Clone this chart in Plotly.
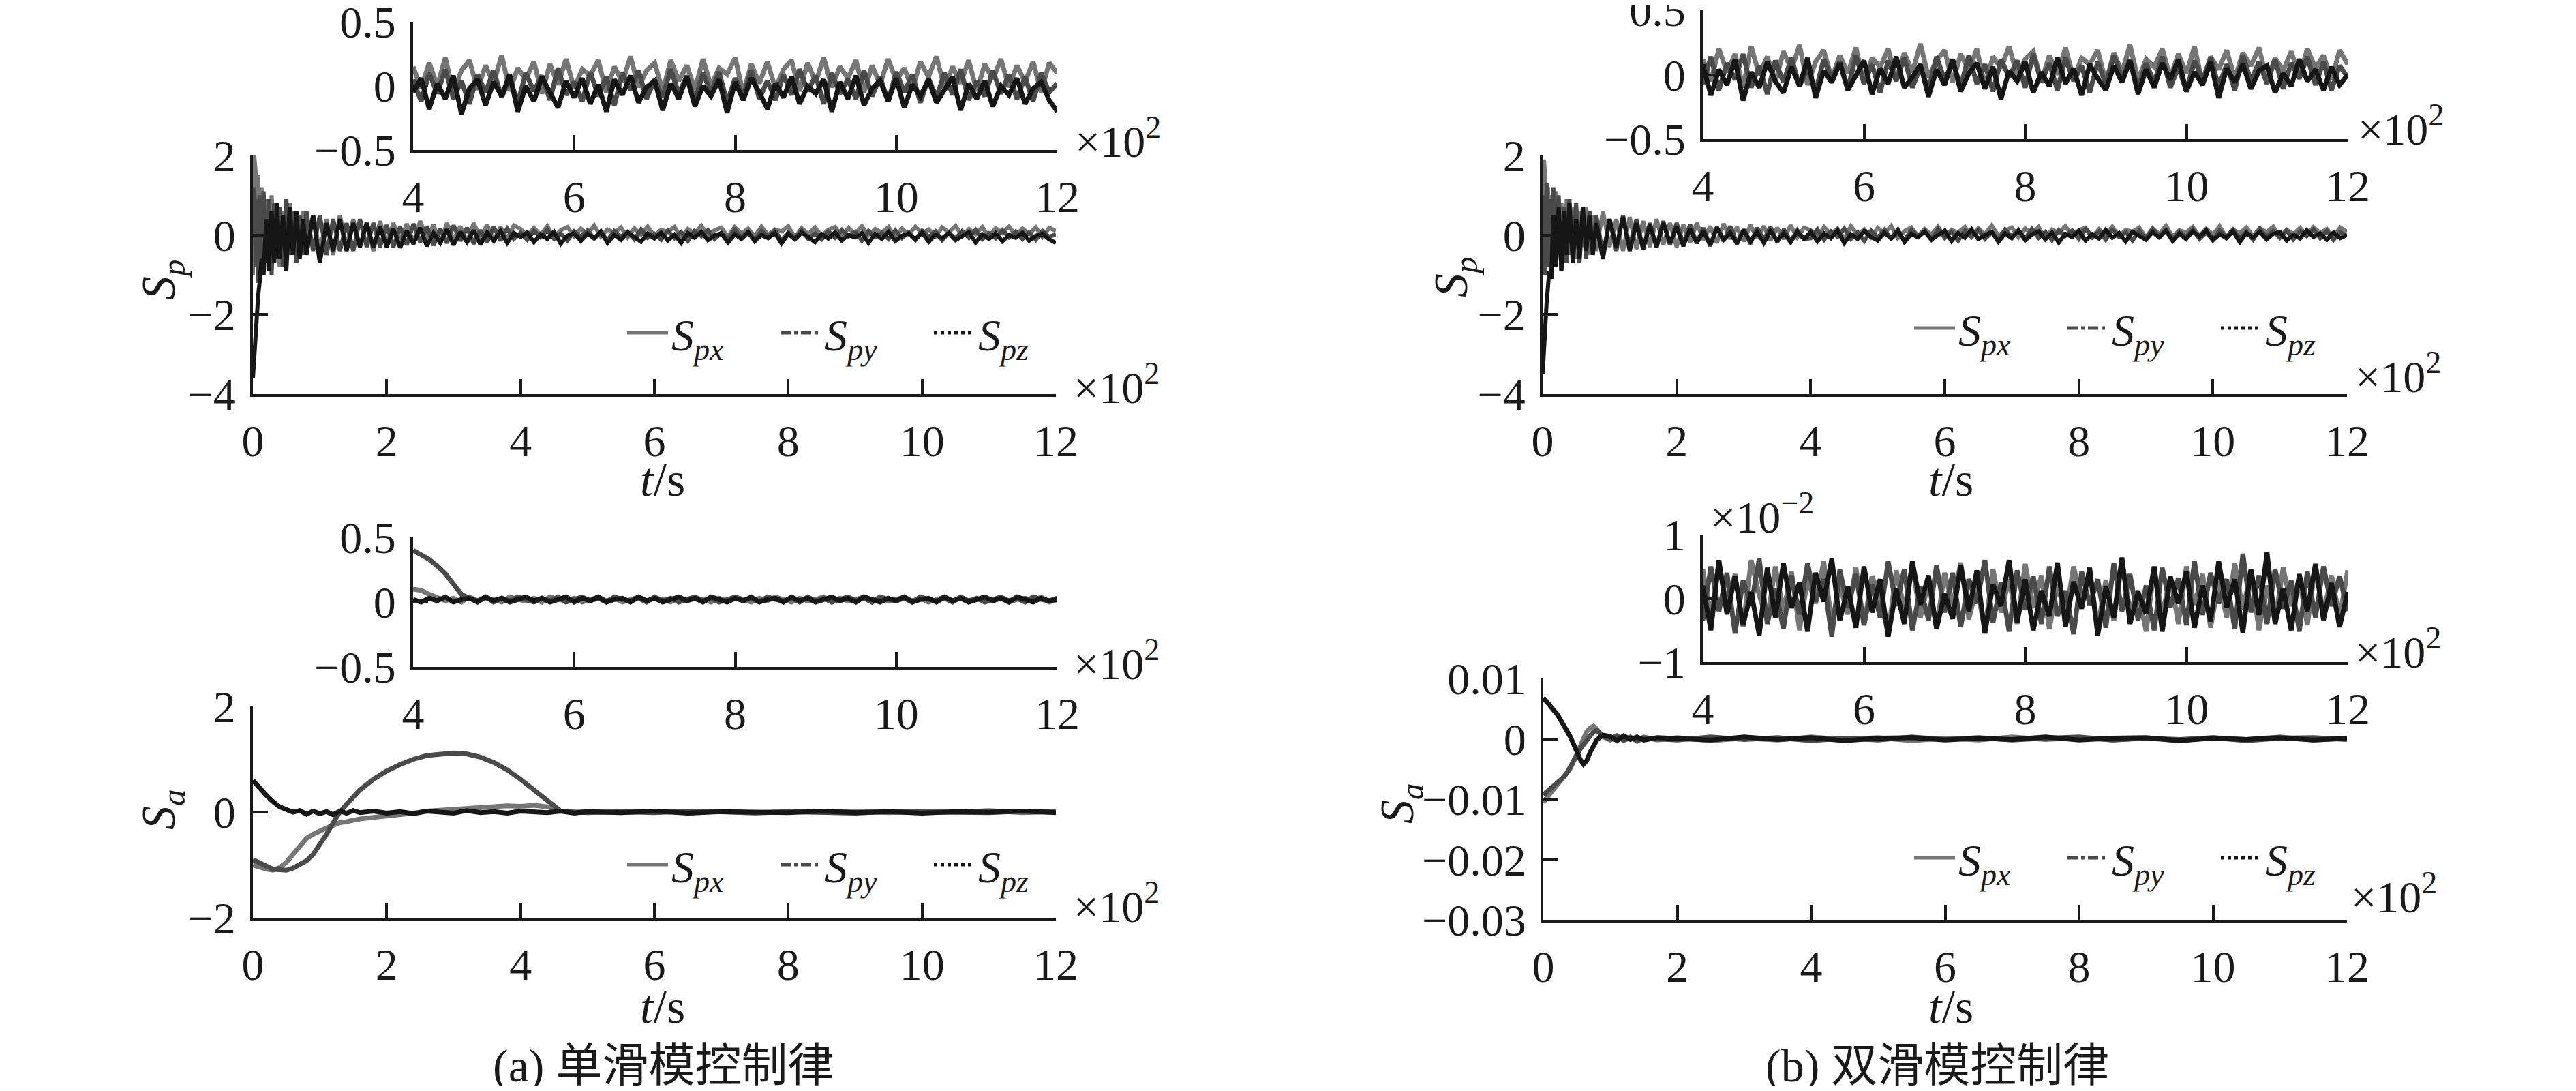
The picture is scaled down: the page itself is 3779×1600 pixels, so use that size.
import plotly.graph_objects as go

W, H = 3779, 1600          # browser window
OFF = 8                    # default page margin around the plot div
FW, FH = W - 2 * OFF, H - 2 * OFF

# time samples (x axis is in units of 10^2 s)
T_EARLY = [0.0, 0.02, 0.04, 0.06, 0.08, 0.1, 0.13, 0.16, 0.2, 0.24,
           0.28, 0.32, 0.36, 0.4, 0.45, 0.5, 0.55, 0.6, 0.65, 0.7,
           0.75, 0.8, 0.9, 1.0, 1.1, 1.2, 1.3, 1.4, 1.5, 1.6,
           1.7, 1.8, 1.9, 2.0, 2.1, 2.2, 2.3, 2.4, 2.5, 2.6,
           2.7, 2.8, 2.9, 3.0, 3.1, 3.2, 3.3, 3.4, 3.5, 3.6,
           3.7, 3.8, 3.9]
T_LATE = [4.0, 4.1, 4.2, 4.3, 4.4, 4.5, 4.6, 4.7, 4.8, 4.9,
          5.0, 5.1, 5.2, 5.3, 5.4, 5.5, 5.6, 5.7, 5.8, 5.9,
          6.0, 6.1, 6.2, 6.3, 6.4, 6.5, 6.6, 6.7, 6.8, 6.9,
          7.0, 7.1, 7.2, 7.3, 7.4, 7.5, 7.6, 7.7, 7.8, 7.9,
          8.0, 8.1, 8.2, 8.3, 8.4, 8.5, 8.6, 8.7, 8.8, 8.9,
          9.0, 9.1, 9.2, 9.3, 9.4, 9.5, 9.6, 9.7, 9.8, 9.9,
          10.0, 10.1, 10.2, 10.3, 10.4, 10.5, 10.6, 10.7, 10.8, 10.9,
          11.0, 11.1, 11.2, 11.3, 11.4, 11.5, 11.6, 11.7, 11.8, 11.9, 12.0]
T_SA_A = [0.0, 0.1, 0.2, 0.3, 0.4, 0.5, 0.6, 0.7, 0.8, 0.9, 1.0, 1.1, 1.2, 1.3, 1.4, 1.5, 1.6,
          1.8, 2.0, 2.2, 2.4, 2.6, 2.8, 3.0, 3.2, 3.4, 3.6, 3.8, 4.0, 4.2, 4.4, 4.6, 4.8, 5.0,
          5.5, 6.0, 6.5, 7.0, 7.5, 8.0, 8.5, 9.0, 9.5, 10.0, 10.5, 11.0, 11.5, 12.0]
T_SA_B = [0.0, 0.05, 0.1, 0.15, 0.2, 0.25, 0.3, 0.35, 0.4, 0.45, 0.5, 0.55, 0.6, 0.65, 0.7,
          0.75, 0.8, 0.85, 0.9, 1.0, 1.1, 1.2, 1.3, 1.4, 1.5, 1.7,
          2.0, 2.5, 3.0, 3.5, 4.0, 4.5, 5.0, 5.5, 6.0, 6.5, 7.0, 7.5, 8.0, 8.5, 9.0, 9.5,
          10.0, 10.5, 11.0, 11.5, 12.0]

# (a) single sliding mode, S_p
SPX_A_E = [-1.0, 2.0, 1.6, 0.2, 1.5, -0.6, 1.2, -0.4, 0.9, -0.7, 1.0, -0.5, 0.7, -0.8, 0.6,
           -0.5, 0.8, -0.4, 0.5, -0.6, 0.6, -0.3, 0.5, -0.4, 0.4, -0.5, 0.5, -0.3, 0.4, -0.3,
           0.3, -0.4, 0.35, -0.25,
           0.3, -0.15, 0.28, -0.2, 0.35, -0.1, 0.25, -0.22, 0.3, -0.12, 0.22, -0.18, 0.3, -0.08,
           0.26, -0.15, 0.2, -0.1, 0.24]
SPY_A_E = [0.0, 1.2, -0.8, 0.9, -1.2, 1.0, -0.9, 1.1, -0.7, 0.9, -1.0, 0.8, -0.6, 0.7, -0.8,
           0.9, -0.5, 0.6, -0.7, 0.5, -0.5, 0.6, -0.4, 0.5, -0.5, 0.4, -0.4, 0.3, -0.4, 0.4,
           -0.3, 0.3, -0.3, 0.25,
           -0.3, 0.2, -0.25, 0.28, -0.18, 0.22, -0.26, 0.15, -0.2, 0.24, -0.15, 0.18, -0.22, 0.12,
           -0.18, 0.2, -0.14, 0.16, -0.1]
SPZ_A_E = [-3.6, -3.0, -2.4, -1.9, -1.5, -1.2, -0.6, -1.0, 0.4, -0.9, 0.6, -0.7, 0.8, -0.6, 0.5,
           -0.9, 0.7, -0.5, 0.6, -0.6, 0.4, -0.5, 0.5, -0.7, 0.3, -0.4, 0.4, -0.4, 0.3, -0.3,
           0.3, -0.3, 0.2, -0.3,
           0.15, -0.32, 0.1, -0.22, 0.18, -0.28, 0.05, -0.2, 0.14, -0.25, 0.08, -0.18, 0.12, -0.24,
           0.06, -0.15, 0.1, -0.2, 0.05]
SPX_A_L = [0.15, -0.02, 0.18, 0.0, 0.22, -0.05, 0.12, 0.2, -0.03, 0.16,
           0.02, 0.24, -0.04, 0.14, 0.05, 0.19, -0.06, 0.17, 0.01, 0.21,
           -0.02, 0.13, 0.08, 0.2, -0.05, 0.15, 0.03, 0.23, -0.01, 0.12,
           0.18, -0.04, 0.2, 0.04, 0.16, -0.03, 0.21, 0.0, 0.14, 0.09,
           0.22, -0.06, 0.17, 0.02, 0.19, -0.02, 0.13, 0.2, -0.04, 0.18,
           0.03, 0.22, -0.01, 0.15, 0.06, 0.2, -0.05, 0.16, 0.01, 0.21,
           0.04, 0.14, -0.03, 0.19, 0.07, 0.23, -0.02, 0.15, 0.02, 0.2,
           -0.04, 0.17, 0.05, 0.21, -0.01, 0.16, 0.03, 0.19, -0.05, 0.18, 0.1]
SPY_A_L = [0.05, -0.12, 0.1, -0.06, 0.13, -0.1, 0.04, -0.14, 0.09, -0.05,
           0.12, -0.09, 0.06, -0.13, 0.1, -0.04, 0.08, -0.11, 0.14, -0.07,
           0.03, -0.12, 0.11, -0.08, 0.07, -0.15, 0.1, -0.03, 0.12, -0.1,
           0.05, -0.09, 0.13, -0.06, 0.08, -0.12, 0.1, -0.05, 0.11, -0.13,
           0.06, -0.08, 0.12, -0.1, 0.04, -0.11, 0.09, -0.07, 0.13, -0.04,
           0.08, -0.14, 0.1, -0.06, 0.05, -0.1, 0.12, -0.08, 0.07, -0.12,
           0.11, -0.05, 0.09, -0.13, 0.06, -0.09, 0.1, -0.07, 0.13, -0.11,
           0.04, -0.08, 0.12, -0.06, 0.09, -0.1, 0.07, -0.12, 0.1, -0.05, 0.02]
SPZ_A_L = [-0.05, 0.06, -0.18, 0.02, -0.1, 0.08, -0.22, -0.02, 0.05, -0.15,
           0.03, -0.08, 0.09, -0.2, 0.0, -0.12, 0.07, -0.06, -0.17, 0.04,
           -0.09, 0.06, -0.14, 0.01, -0.2, 0.05, -0.07, 0.08, -0.13, -0.01,
           0.04, -0.19, 0.02, -0.1, 0.07, -0.16, 0.0, -0.08, 0.05, -0.21,
           0.03, -0.11, 0.06, -0.05, -0.18, 0.02, -0.09, 0.07, -0.14, 0.0,
           -0.06, 0.05, -0.2, 0.03, -0.1, 0.08, -0.15, -0.02, 0.04, -0.12,
           0.06, -0.17, 0.01, -0.08, 0.05, -0.13, -0.03, 0.07, -0.19, 0.02,
           -0.1, 0.04, -0.16, 0.0, -0.07, 0.06, -0.14, -0.02, 0.03, -0.11, -0.2]

# (b) double sliding mode, S_p
SPX_B_E = [-0.9, 1.9, 1.4, 0.3, 1.2, -0.5, 1.0, -0.6, 1.1, -0.4, 0.8, -0.7, 0.9, -0.5, 0.7,
           -0.6, 0.6, -0.3, 0.7, -0.5, 0.5, -0.4, 0.6, -0.3, 0.4, -0.4, 0.45, -0.35, 0.35, -0.3,
           0.4, -0.25, 0.3, -0.3,
           0.26, -0.18, 0.3, -0.12, 0.22, -0.2, 0.28, -0.1, 0.2, -0.16, 0.25, -0.08, 0.22, -0.14,
           0.18, -0.1, 0.24, -0.06, 0.18]
SPY_B_E = [0.0, 1.0, -1.0, 1.3, -0.8, 0.9, -1.1, 1.2, -0.6, 1.0, -0.9, 0.7, -0.7, 0.9, -0.6,
           0.8, -0.7, 0.5, -0.6, 0.6, -0.4, 0.5, -0.5, 0.4, -0.4, 0.5, -0.3, 0.4, -0.35, 0.3,
           -0.3, 0.35, -0.25, 0.3,
           -0.22, 0.26, -0.2, 0.18, -0.28, 0.2, -0.15, 0.22, -0.2, 0.14, -0.22, 0.18, -0.12, 0.2,
           -0.18, 0.14, -0.16, 0.12, -0.1]
SPZ_B_E = [-3.5, -2.8, -2.2, -1.7, -1.3, -0.9, -1.1, 0.5, -0.8, 0.7, -0.9, 0.6, -0.5, 0.8, -0.7,
           0.4, -0.6, 0.7, -0.4, 0.5, -0.5, 0.3, -0.6, 0.4, -0.3, 0.45, -0.4, 0.3, -0.35, 0.25,
           -0.3, 0.3, -0.2, 0.2,
           -0.28, 0.15, -0.2, 0.1, -0.25, 0.18, -0.12, 0.06, -0.22, 0.12, -0.16, 0.08, -0.2, 0.1,
           -0.14, 0.05, -0.18, 0.08, -0.1]
SPX_B_L = [0.12, -0.05, 0.2, 0.02, 0.16, -0.1, 0.22, 0.0, 0.14, -0.06,
           0.18, 0.04, 0.23, -0.08, 0.1, 0.19, -0.03, 0.15, 0.01, 0.21,
           -0.07, 0.13, 0.06, 0.2, -0.04, 0.17, 0.02, 0.24, -0.02, 0.11,
           0.19, -0.06, 0.16, 0.03, 0.2, -0.09, 0.14, 0.05, 0.22, -0.01,
           0.12, 0.18, -0.05, 0.15, 0.0, 0.21, -0.03, 0.13, 0.08, 0.19,
           -0.06, 0.17, 0.02, 0.23, -0.04, 0.12, 0.06, 0.2, -0.02, 0.16,
           0.01, 0.22, -0.07, 0.14, 0.04, 0.19, -0.03, 0.17, 0.07, 0.21,
           -0.05, 0.13, 0.03, 0.18, -0.01, 0.2, 0.05, 0.15, -0.04, 0.19, 0.08]
SPY_B_L = [-0.08, 0.14, -0.12, 0.09, -0.04, 0.16, -0.1, 0.07, -0.15, 0.11,
           -0.06, 0.13, -0.09, 0.05, -0.13, 0.12, -0.03, 0.1, -0.11, 0.15,
           -0.07, 0.08, -0.14, 0.11, -0.05, 0.13, -0.1, 0.06, -0.12, 0.14,
           -0.04, 0.1, -0.09, 0.15, -0.07, 0.08, -0.13, 0.12, -0.02, 0.11,
           -0.1, 0.16, -0.06, 0.09, -0.12, 0.13, -0.05, 0.07, -0.14, 0.1,
           -0.08, 0.15, -0.03, 0.12, -0.11, 0.09, -0.06, 0.14, -0.1, 0.06,
           -0.13, 0.11, -0.04, 0.13, -0.09, 0.08, -0.12, 0.15, -0.05, 0.1,
           -0.07, 0.12, -0.11, 0.09, -0.03, 0.14, -0.08, 0.1, -0.12, 0.07, -0.02]
SPZ_B_L = [0.08, -0.16, 0.04, -0.08, 0.12, -0.2, 0.02, -0.1, 0.1, -0.05,
           -0.14, 0.06, -0.09, 0.13, -0.18, 0.03, -0.06, 0.09, -0.12, 0.0,
           0.11, -0.15, 0.05, -0.07, 0.14, -0.1, -0.02, 0.08, -0.17, 0.04,
           -0.08, 0.12, -0.13, 0.01, 0.09, -0.11, 0.06, -0.19, 0.03, -0.05,
           0.1, -0.14, 0.02, -0.09, 0.13, -0.07, 0.05, -0.16, 0.08, -0.03,
           -0.12, 0.07, -0.06, 0.11, -0.15, 0.04, -0.1, 0.09, -0.04, 0.12,
           -0.13, 0.02, -0.08, 0.1, -0.18, 0.05, -0.06, 0.08, -0.11, 0.03,
           0.07, -0.14, 0.01, -0.09, 0.12, -0.05, 0.04, -0.12, 0.06, -0.08, 0.0]

# (a) single sliding mode, S_a (main plot)
SAX_A = [-1.0, -1.05, -1.08, -1.1, -1.05, -0.95, -0.8, -0.65, -0.5, -0.42, -0.35, -0.3, -0.25,
         -0.2, -0.18, -0.15, -0.13,
         -0.1, -0.08, -0.05, -0.02, 0.02, 0.04, 0.05, 0.08, 0.1, 0.12, 0.12, 0.11, 0.13, 0.1,
         0.02, 0.0, 0.01,
         -0.01, 0.02, 0.0, 0.01, -0.02, 0.01, 0.0, 0.02, -0.01, 0.01, 0.0, 0.03, -0.01, 0.01]
SAY_A = [-0.9, -0.97, -1.02, -1.08, -1.1, -1.1, -1.06, -1.0, -0.92, -0.8, -0.62, -0.42, -0.2,
         0.0, 0.15, 0.3, 0.42,
         0.62, 0.78, 0.9, 1.0, 1.07, 1.1, 1.12, 1.1, 1.04, 0.94, 0.8, 0.62, 0.42, 0.2,
         0.02, 0.0, -0.01,
         0.01, -0.01, 0.02, 0.0, -0.01, 0.01, 0.0, -0.02, 0.01, 0.0, 0.01, -0.01, 0.02, 0.0]
SAZ_A = [0.6, 0.45, 0.32, 0.2, 0.1, 0.05, 0.0, 0.03, -0.04, 0.02, -0.03, 0.01, -0.05, 0.02,
         -0.02, 0.03, -0.01,
         0.02, -0.02, 0.01, -0.03, 0.02, 0.0, -0.02, 0.03, -0.01, 0.01, -0.02, 0.02, 0.0, -0.01,
         0.02, -0.02, 0.01,
         -0.01, 0.02, -0.02, 0.01, 0.0, -0.01, 0.02, -0.01, 0.01, -0.02, 0.01, 0.0, 0.02, -0.01]
# (a) S_a inset, 400 s to 1200 s
SAX_A_L = [0.1, 0.09, 0.06, 0.03, 0.01, 0.03, 0.0, 0.04, 0.01, 0.03,
           0.02, 0.0, 0.04, 0.02, 0.01, 0.03, 0.0, 0.04, 0.02, 0.01,
           0.03, 0.0, 0.02, 0.04, 0.01, 0.03, 0.0, 0.02, 0.04, 0.01,
           0.03, 0.02, 0.0, 0.04, 0.01, 0.03, 0.02, 0.0, 0.03, 0.01,
           0.04, 0.02, 0.0, 0.03, 0.01, 0.04, 0.02, 0.0, 0.03, 0.01,
           0.02, 0.04, 0.0, 0.03, 0.01, 0.02, 0.04, 0.0, 0.03, 0.01,
           0.02, 0.04, 0.01, 0.03, 0.0, 0.02, 0.04, 0.01, 0.03, 0.0,
           0.02, 0.04, 0.01, 0.03, 0.0, 0.02, 0.03, 0.01, 0.04, 0.0, 0.02]
SAY_A_L = [0.4, 0.37, 0.33, 0.28, 0.22, 0.14, 0.06, 0.03, 0.01, 0.04,
           0.0, 0.03, 0.01, 0.04, 0.02, 0.0, 0.03, 0.01, 0.04, 0.0,
           0.02, 0.04, 0.01, 0.03, 0.0, 0.04, 0.02, 0.01, 0.03, 0.0,
           0.04, 0.01, 0.03, 0.0, 0.02, 0.04, 0.01, 0.03, 0.0, 0.02,
           0.04, 0.01, 0.03, 0.0, 0.04, 0.02, 0.01, 0.03, 0.0, 0.04,
           0.01, 0.03, 0.0, 0.02, 0.04, 0.01, 0.03, 0.0, 0.04, 0.02,
           0.01, 0.03, 0.0, 0.04, 0.02, 0.01, 0.03, 0.0, 0.04, 0.01,
           0.03, 0.0, 0.02, 0.04, 0.01, 0.03, 0.0, 0.04, 0.02, 0.01, 0.03]
SAZ_A_L = [0.02, 0.0, 0.03, 0.01, 0.04, 0.0, 0.02, 0.03, 0.0, 0.04,
           0.01, 0.03, 0.0, 0.02, 0.04, 0.01, 0.03, 0.0, 0.02, 0.04,
           0.0, 0.03, 0.01, 0.04, 0.0, 0.02, 0.03, 0.0, 0.04, 0.01,
           0.03, 0.0, 0.02, 0.04, 0.01, 0.03, 0.0, 0.04, 0.02, 0.0,
           0.03, 0.01, 0.04, 0.0, 0.02, 0.03, 0.0, 0.04, 0.01, 0.03,
           0.0, 0.02, 0.04, 0.01, 0.03, 0.0, 0.04, 0.02, 0.0, 0.03,
           0.01, 0.04, 0.0, 0.02, 0.03, 0.0, 0.04, 0.01, 0.03, 0.0,
           0.02, 0.04, 0.01, 0.03, 0.0, 0.04, 0.02, 0.0, 0.03, 0.01, 0.02]

# (b) double sliding mode, S_a (main plot)
SAX_B = [-0.0105, -0.0098, -0.0092, -0.0086, -0.008, -0.0072, -0.0065, -0.0058, -0.005, -0.0038,
         -0.0024, -0.001, 0.0, 0.0012, 0.0018, 0.0021, 0.0016, 0.0008, 0.0003,
         -0.0002, 0.0004, -0.0003, 0.0002, -0.0001, 0.0003, -0.0002,
         0.0002, -0.0003, 0.0001, -0.0002, 0.0003, -0.0001, 0.0002, -0.0003, 0.0001, -0.0002,
         0.0003, -0.0001, 0.0002, -0.0002, 0.0001, -0.0003, 0.0002, -0.0001, 0.0003, -0.0002, 0.0001]
SAY_B = [-0.0093, -0.0088, -0.0084, -0.0079, -0.0075, -0.007, -0.0064, -0.0057, -0.0048, -0.0038,
         -0.0027, -0.0017, -0.0009, -0.0002, 0.0006, 0.0012, 0.0014, 0.001, 0.0004,
         0.0, 0.0005, -0.0002, 0.0003, -0.0004, 0.0002, 0.0,
         -0.0002, 0.0003, -0.0001, 0.0002, -0.0003, 0.0001, -0.0002, 0.0003, -0.0001, 0.0002,
         -0.0002, 0.0001, 0.0003, -0.0002, 0.0001, -0.0001, 0.0002, -0.0003, 0.0001, 0.0002, -0.0001]
SAZ_B = [0.0068, 0.006, 0.0055, 0.0048, 0.0042, 0.0033, 0.0024, 0.0014, 0.0004, -0.0008,
         -0.0022, -0.0034, -0.0042, -0.0036, -0.0022, -0.001, -0.0002, 0.0003, 0.0006,
         0.0004, -0.0003, 0.0005, -0.0001, 0.0003, -0.0002, 0.0002,
         0.0001, -0.0002, 0.0003, -0.0001, 0.0002, -0.0003, 0.0001, 0.0002, -0.0002, 0.0001,
         -0.0001, 0.0003, -0.0002, 0.0001, 0.0002, -0.0003, 0.0001, -0.0001, 0.0002, -0.0002, 0.0001]
# (b) S_a inset, values in units of 10^-2
SAX_B_L_E2 = [0.45, -0.3, 0.55, -0.12, 0.38, -0.45, 0.6, 0.05, -0.35, 0.5,
              -0.2, 0.42, -0.5, 0.3, -0.08, 0.58, -0.38, 0.2, -0.25, 0.48,
              -0.42, 0.35, 0.0, -0.55, 0.44, -0.18, 0.52, -0.3, 0.25, -0.46,
              0.4, -0.1, 0.56, -0.33, 0.18, -0.5, 0.46, -0.22, 0.3, -0.4,
              0.54, -0.15, 0.36, -0.48, 0.22, -0.28, 0.5, -0.05, 0.4, -0.44,
              0.28, -0.35, 0.58, -0.2, 0.12, -0.52, 0.45, -0.26, 0.34, -0.4,
              0.5, -0.1, 0.38, -0.46, 0.26, -0.3, 0.55, -0.18, 0.42, -0.5,
              0.2, -0.36, 0.48, -0.12, 0.32, -0.42, 0.52, -0.24, 0.36, -0.3, 0.44]
SAY_B_L_E2 = [-0.35, 0.5, -0.2, 0.4, -0.55, 0.28, -0.1, 0.62, -0.4, 0.15,
              -0.48, 0.36, -0.25, 0.55, -0.05, 0.3, -0.6, 0.45, -0.15, 0.38,
              -0.42, 0.22, -0.3, 0.58, -0.12, 0.46, -0.5, 0.18, -0.35, 0.52,
              -0.22, 0.4, -0.45, 0.3, -0.08, 0.6, -0.38, 0.25, -0.52, 0.44,
              -0.18, 0.35, -0.4, 0.5, -0.28, 0.12, -0.56, 0.42, -0.1, 0.3,
              -0.46, 0.55, -0.2, 0.38, -0.34, 0.2, -0.5, 0.48, -0.14, 0.32,
              -0.42, 0.58, -0.26, 0.4, -0.08, 0.3, -0.48, 0.7, -0.22, 0.36,
              -0.4, 0.46, -0.16, 0.28, -0.52, 0.42, -0.3, 0.5, -0.12, 0.35, -0.2]
SAZ_B_L_E2 = [0.2, -0.5, 0.6, -0.25, 0.35, -0.42, 0.1, -0.58, 0.48, -0.3,
              0.55, -0.15, 0.25, -0.52, 0.4, -0.05, 0.62, -0.35, 0.18, -0.46,
              0.5, -0.22, 0.3, -0.6, 0.15, -0.4, 0.58, -0.1, 0.36, -0.48,
              0.08, -0.32, 0.52, -0.2, 0.44, -0.55, 0.22, -0.12, 0.6, -0.38,
              0.3, -0.5, 0.12, -0.28, 0.56, -0.44, 0.26, -0.16, 0.48, -0.58,
              0.18, -0.3, 0.64, -0.4, 0.1, -0.24, 0.5, -0.52, 0.34, -0.08,
              0.42, -0.46, 0.2, -0.36, 0.58, -0.14, 0.3, -0.54, 0.46, -0.26,
              0.72, -0.4, 0.16, -0.5, 0.38, -0.2, 0.54, -0.34, 0.24, -0.45, 0.1]

NAMES = ["<i>S</i><sub><i>px</i></sub>", "<i>S</i><sub><i>py</i></sub>", "<i>S</i><sub><i>pz</i></sub>"]
COLORS = ["#767676", "#4a4a4a", "#161616"]
DASHES = ["solid", "dashdot", "dot"]
FONT = "Liberation Serif"
INK = "#1a1a1a"


def fx(p):
    # page pixel -> paper fraction
    return (p - OFF) / FW


def fy(p):
    return 1 - (p - OFF) / FH


fig = go.Figure()


def add_series(x, ys, n, width=7):
    for name, y, c in zip(NAMES, ys, COLORS):
        fig.add_trace(go.Scatter(
            x=x, y=y, mode="lines", name=name,
            line=dict(color=c, width=width),
            xaxis="x" if n == 1 else f"x{n}", yaxis="y" if n == 1 else f"y{n}",
            showlegend=False,
        ))


def add_legend(n, legend):
    # legend-only entries carrying the line styles of the three components
    for name, c, d in zip(NAMES, COLORS, DASHES):
        fig.add_trace(go.Scatter(
            x=[None], y=[None], mode="lines", name=name,
            line=dict(color=c, width=5, dash=d),
            xaxis="x" if n == 1 else f"x{n}", yaxis="y" if n == 1 else f"y{n}",
            legend=legend,
        ))


# (a) top: main + inset
add_series(T_EARLY + T_LATE, [SPX_A_E + SPX_A_L, SPY_A_E + SPY_A_L, SPZ_A_E + SPZ_A_L], 1, 6)
add_series(T_LATE, [SPX_A_L, SPY_A_L, SPZ_A_L], 2)
# (a) bottom
add_series(T_SA_A, [SAX_A, SAY_A, SAZ_A], 3, 7)
add_series(T_LATE, [SAX_A_L, SAY_A_L, SAZ_A_L], 4)
# (b) top
add_series(T_EARLY + T_LATE, [SPX_B_E + SPX_B_L, SPY_B_E + SPY_B_L, SPZ_B_E + SPZ_B_L], 5, 6)
add_series(T_LATE, [SPX_B_L, SPY_B_L, SPZ_B_L], 6)
# (b) bottom
add_series(T_SA_B, [SAX_B, SAY_B, SAZ_B], 7, 7)
add_series(T_LATE, [SAX_B_L_E2, SAY_B_L_E2, SAZ_B_L_E2], 8)

add_legend(1, "legend")
add_legend(3, "legend2")
add_legend(5, "legend3")
add_legend(7, "legend4")


def axis(dom, rng, vals, anchor):
    return dict(
        domain=dom, range=rng, tickmode="array", tickvals=vals,
        showline=True, linecolor=INK, linewidth=4, mirror=False,
        ticks="inside", ticklen=22, tickwidth=4, tickcolor=INK,
        showgrid=False, zeroline=False, anchor=anchor, automargin=False,
        tickfont=dict(family=FONT, size=66, color=INK), ticklabelstandoff=8,
        ticklabeloverflow="allow",
    )


XM = [0, 2, 4, 6, 8, 10, 12]
XI = [4, 6, 8, 10, 12]
panels = {
    1: ([371, 1549], [228, 578], [0, 12], XM, [-4, 2], [-4, -2, 0, 2]),
    2: ([606, 1551], [32, 220], [4, 12], XI, [-0.5, 0.5], [-0.5, 0, 0.5]),
    3: ([371, 1549], [1036, 1346], [0, 12], XM, [-2, 2], [-2, 0, 2]),
    4: ([606, 1551], [788, 978], [4, 12], XI, [-0.5, 0.5], [-0.5, 0, 0.5]),
    5: ([2263, 3443], [228, 578], [0, 12], XM, [-4, 2], [-4, -2, 0, 2]),
    6: ([2498, 3444], [15, 204], [4, 12], XI, [-0.5, 0.5], [-0.5, 0, 0.5]),
    7: ([2264, 3443], [995, 1349], [0, 12], XM, [-0.03, 0.01], [-0.03, -0.02, -0.01, 0, 0.01]),
    8: ([2498, 3444], [784, 971], [4, 12], XI, [-1, 1], [-1, 0, 1]),
}
layout_axes = {}
for n, (xd, yd, xr, xv, yr, yv) in panels.items():
    s = "" if n == 1 else str(n)
    layout_axes["xaxis" + s] = axis([fx(xd[0]), fx(xd[1])], xr, xv, "y" + s)
    layout_axes["yaxis" + s] = axis([fy(yd[1]), fy(yd[0])], yr, yv, "x" + s)
fig.update_layout(**layout_axes)


def legend(x, y):
    return dict(x=fx(x), y=fy(y), xanchor="left", yanchor="middle", orientation="h",
                bgcolor="rgba(0,0,0,0)", font=dict(family=FONT, size=66, color=INK),
                entrywidth=150, entrywidthmode="pixels", itemwidth=60)


fig.update_layout(
    legend=legend(915, 488), legend2=legend(915, 1268),
    legend3=legend(2803, 481), legend4=legend(2803, 1258),
)

ann = []


def text(x, y, s, size=66, xanchor="center", angle=0):
    ann.append(dict(x=fx(x), y=fy(y), xref="paper", yref="paper", text=s, showarrow=False,
                    xanchor=xanchor, yanchor="middle", textangle=angle,
                    font=dict(family=FONT + ", Noto Sans CJK SC", size=size, color=INK)))


# scale labels
for x, y in [(1575, 203), (1573, 563), (1573, 968), (1573, 1324),
             (3457, 184), (3453, 548), (3453, 951), (3447, 1310)]:
    text(x, y, "×10<sup>2</sup>", xanchor="left")
text(2507, 753, "×10<sup>−2</sup>", xanchor="left")

# axis titles
text(972, 703, "<i>t</i>/s", size=70)
text(972, 1476, "<i>t</i>/s", size=70)
text(2862, 703, "<i>t</i>/s", size=70)
text(2862, 1476, "<i>t</i>/s", size=70)
text(238, 410, "<i>S</i><sub><i>p</i></sub>", size=70, angle=-90)
text(2134, 406, "<i>S</i><sub><i>p</i></sub>", size=70, angle=-90)
text(238, 1187, "<i>S</i><sub><i>a</i></sub>", size=70, angle=-90)
text(2055, 1178, "<i>S</i><sub><i>a</i></sub>", size=70, angle=-90)

# captions
text(973, 1563, "(a) 单滑模控制律", size=68)
text(2842, 1563, "(b) 双滑模控制律", size=68)

fig.update_layout(
    width=FW, height=FH, margin=dict(l=0, r=0, t=0, b=0, autoexpand=False),
    paper_bgcolor="white", plot_bgcolor="white",
    annotations=ann,
)

fig.write_html("out.html")
